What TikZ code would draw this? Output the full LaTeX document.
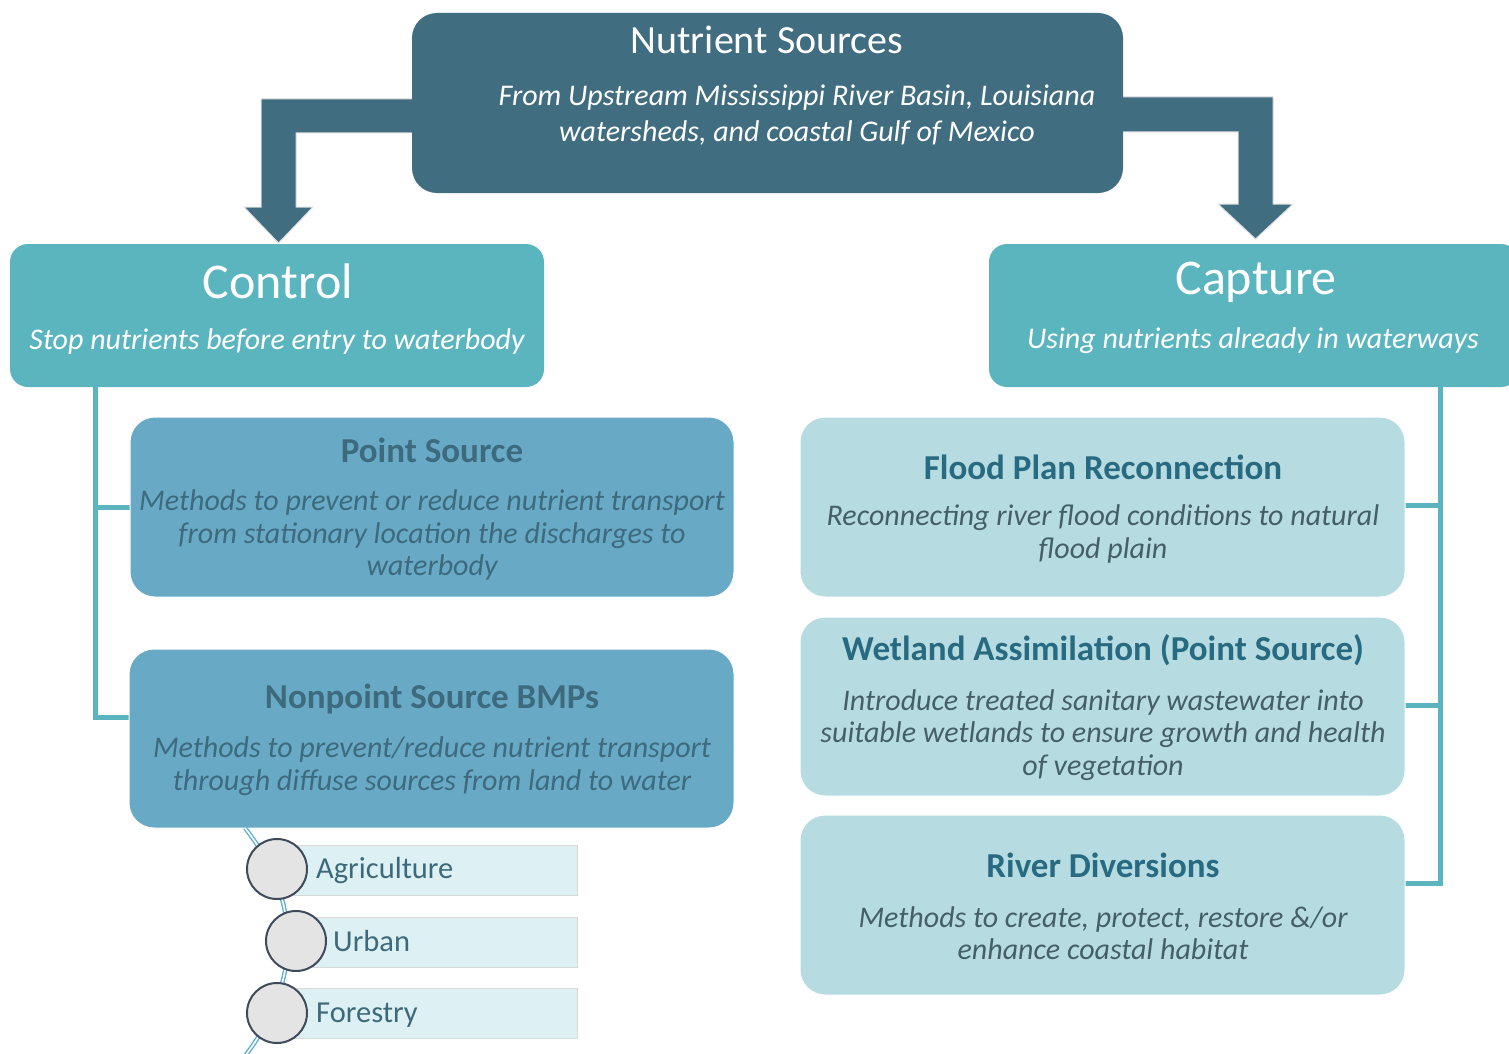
\documentclass[tikz,border=0pt]{standalone}
\usepackage{fontspec}
\setmainfont{Carlito}
\definecolor{topc}{HTML}{416D80}
\definecolor{tealc}{HTML}{5AB5BF}
\definecolor{midc}{HTML}{68A9C6}
\definecolor{midtxt}{HTML}{3E6A7D}
\definecolor{lightc}{HTML}{B6DCE1}
\definecolor{lighthead}{HTML}{276A82}
\definecolor{lighttxt}{HTML}{455F6A}
\definecolor{listc}{HTML}{DDF0F3}
\definecolor{listtxt}{HTML}{3D6A7A}
\definecolor{circc}{HTML}{E4E4E4}
\definecolor{circline}{HTML}{3F4A5A}
\definecolor{curvec}{HTML}{5FB0CF}
\tikzset{
  boxshape/.style={rectangle, inner sep=0pt},
  topbox/.style={boxshape, fill=topc, rounded corners=25pt},
  sidebox/.style={boxshape, fill=tealc, rounded corners=18pt},
  midbox/.style={boxshape, fill=midc, rounded corners=25pt, draw=white, line width=1pt},
  lightbox/.style={boxshape, fill=lightc, rounded corners=25pt, draw=white, line width=1pt},
  conn/.style={draw=tealc, line width=5pt},
  bigarrow/.style={fill=topc, draw=gray!25, line width=1pt},
  listbox/.style={boxshape, fill=listc, draw=gray!30, line width=0.8pt, anchor=west},
  circ/.style={circle, fill=circc, draw=circline, line width=2pt, minimum size=60pt, inner sep=0pt},
  txt/.style={inner sep=0pt, align=center},
  headfont/.style={font=\fontsize{35}{40}\selectfont\bfseries},
  bodyfont/.style={font=\fontsize{30}{32.5}\selectfont\itshape},
}
\begin{document}
\begin{tikzpicture}[x=1pt,y=-1pt]
\useasboundingbox (0,0) rectangle (1509,1054);
% arrows
\draw[bigarrow] (415,99) -- (261,99) -- (261,207) -- (244,207) -- (278.5,243) -- (313,207) -- (296,207) -- (296,133) -- (415,133) -- cycle;
\draw[bigarrow] (1118,97) -- (1273,97) -- (1273,204) -- (1293,204) -- (1255.5,239) -- (1218,204) -- (1238,204) -- (1238,132) -- (1118,132) -- cycle;
% top box
\node[topbox, minimum width=711pt, minimum height=180pt] (top) at (767.5,103) {};
\node[txt, text=white, font=\fontsize{40}{47}\selectfont] (toptitle) at (767,40) {Nutrient Sources};
\node[txt, text=white, font=\fontsize{30}{36}\selectfont\itshape] (topsub) at (797,115) {From Upstream Mississippi River Basin, Louisiana\\watersheds, and coastal Gulf of Mexico};
% control / capture
\node[sidebox, minimum width=534pt, minimum height=143pt] (control) at (277,315.5) {};
\node[txt, text=white, font=\fontsize{50}{58}\selectfont] (controlt) at (278,281) {Control};
\node[txt, text=white, font=\fontsize{30}{36}\selectfont\itshape] (controls) at (277,341) {Stop nutrients before entry to waterbody};
\node[sidebox, minimum width=530pt, minimum height=143pt] (capture) at (1254,315.5) {};
\node[txt, text=white, font=\fontsize{50}{58}\selectfont] (capturet) at (1256,282) {Capture};
\node[txt, text=white, font=\fontsize{30}{36}\selectfont\itshape] (captures) at (1253,341) {Using nutrients already in waterways};
% left connectors
\coordinate (lv) at (95,387);
\coordinate (npsj) at (131,717);
\draw[conn] (lv) |- (npsj);
\draw[conn] (95,507) -- (131,507);
% right connectors
\coordinate (rv) at (1440,387);
\coordinate (riverj) at (1403,883);
\draw[conn] (rv) |- (riverj);
\coordinate (floodj) at (1403,505);
\coordinate (wetj) at (1403,705);
\draw[conn] (1440,505) -- (floodj);
\draw[conn] (1440,705) -- (wetj);
% left boxes
\node[midbox, minimum width=604pt, minimum height=180pt] (ps) at (432,507) {};
\node[txt, text=midtxt, headfont] (pst) at (432,450) {Point Source};
\node[txt, text=midtxt, bodyfont] (psb) at (432,535) {Methods to prevent or reduce nutrient transport\\from stationary location the discharges to\\waterbody};
\node[midbox, minimum width=605pt, minimum height=179pt] (nps) at (431.5,738.5) {};
\node[txt, text=midtxt, headfont] (npst) at (432,699) {Nonpoint Source BMPs};
\node[txt, text=midtxt, bodyfont] (npsb) at (432,766) {Methods to prevent/reduce nutrient transport\\through diffuse sources from land to water};
% right boxes
\node[lightbox, minimum width=605pt, minimum height=180pt] (flood) at (1102.5,507) {};
\node[txt, text=lighthead, headfont] (floodt) at (1103,467) {Flood Plan Reconnection};
\node[txt, text=lighttxt, bodyfont] (floodb) at (1103,534) {Reconnecting river flood conditions to natural\\flood plain};
\node[lightbox, minimum width=605pt, minimum height=179pt] (wet) at (1102.5,706.5) {};
\node[txt, text=lighthead, headfont] (wett) at (1103,650) {Wetland Assimilation (Point Source)};
\node[txt, text=lighttxt, bodyfont] (wetb) at (1103,735) {Introduce treated sanitary wastewater into\\suitable wetlands to ensure growth and health\\of vegetation};
\node[lightbox, minimum width=605pt, minimum height=180pt] (river) at (1102.5,905) {};
\node[txt, text=lighthead, headfont] (rivert) at (1103,865) {River Diversions};
\node[txt, text=lighttxt, bodyfont] (riverb) at (1103,933) {Methods to create, protect, restore \&/or\\enhance coastal habitat};
% list
\node[listbox, minimum width=300pt, minimum height=50pt] (agr) at (277,870) {};
\node[listbox, minimum width=281pt, minimum height=50pt] (urb) at (296,942) {};
\node[listbox, minimum width=300pt, minimum height=50pt] (for) at (277,1013) {};
\coordinate (cvtop) at (245,828);
\coordinate (cvbot) at (245,1056);
\draw[draw=curvec, double=white, line width=1.4pt, double distance=1.6pt] (cvtop) .. controls (302,900) and (302,982) .. (cvbot);
\node[circ] (c1) at (277,869) {};
\node[circ] (c2) at (296,941) {};
\node[circ] (c3) at (277,1013) {};
\node[txt, anchor=west, text=listtxt, font=\fontsize{30.5}{36}\selectfont] (agrt) at (316,871) {Agriculture};
\node[txt, anchor=west, text=listtxt, font=\fontsize{30.5}{36}\selectfont] (urbt) at (333,941) {Urban};
\node[txt, anchor=west, text=listtxt, font=\fontsize{30.5}{36}\selectfont] (fort) at (316,1015) {Forestry};
\end{tikzpicture}
\end{document}
